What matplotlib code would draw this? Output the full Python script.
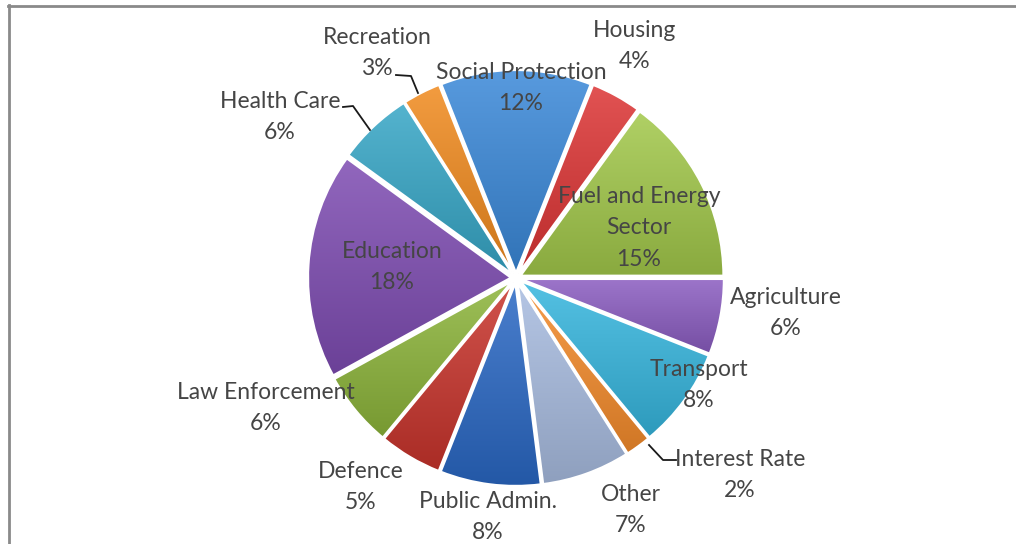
import numpy as np
import matplotlib.pyplot as plt
import matplotlib.colors as mcolors
from matplotlib.lines import Line2D

# ---------------------------------------------------------------------------
# data
# ---------------------------------------------------------------------------
labels = ["Social Protection", "Housing", "Fuel and Energy\nSector", "Agriculture",
          "Transport", "Interest Rate", "Other", "Public Admin.", "Defence",
          "Law Enforcement", "Education", "Health Care", "Recreation"]
shares = [12, 4, 15, 6, 8, 2, 7, 8, 5, 6, 18, 6, 3]

colors = ["#3a88d8", "#dc3434", "#a2c84a", "#8a5cc0", "#36b6de", "#f58c2c",
          "#a8bce0", "#2a68c4", "#c8342c", "#8cb43a", "#7e4cb2", "#36a6c6", "#f08a1e"]

# label block centres in pixel coords (x, y from top)
label_pos = [(521, 88), (635, 46), (639, 228), (786, 313), (699, 385), (740, 475),
             (631, 510), (488, 517), (361, 487), (266, 408), (392, 267), (280, 117),
             (377, 53)]

# leader lines for the small outside labels (pixel coords)
leaders = [
    [(343, 107), (353, 106), (370, 130)],   # Health Care
    [(396, 75), (411, 76), (418, 93)],      # Recreation
    [(676, 460), (663, 460), (649, 445)],   # Interest Rate
]

W, H = 1016, 544
CX, CY, R = 516, 278, 203
GAP = 5   # outward shift of every slice, px

fig = plt.figure(figsize=(W / 100, H / 100), dpi=100)
ax = fig.add_axes([0, 0, 1, 1])
ax.set_xlim(0, W)
ax.set_ylim(0, H)
ax.set_aspect("equal")
ax.axis("off")

wedges, _ = ax.pie(shares, colors=colors, startangle=90 + 360 * shares[0] / 200,
                   counterclock=False, radius=R, center=(CX, H - CY),
                   explode=[GAP] * len(shares),
                   wedgeprops=dict(edgecolor="white", linewidth=1.6))

# light-to-dark vertical shading inside each wedge
for w, c in zip(wedges, colors):
    base = np.array(mcolors.to_rgb(c))
    bb = w.get_path().get_extents(w.get_transform() - ax.transData)
    t = np.linspace(0, 1, 64)[:, None]
    light = base + (1 - base) * 0.15
    dark = base * 0.85
    grad = dark * (1 - t) + light * t
    img = np.repeat(grad[:, None, :], 2, axis=1)
    im = ax.imshow(img, extent=[bb.x0, bb.x1, bb.y0, bb.y1], origin="lower",
                   aspect="auto", zorder=w.get_zorder() + 0.1, interpolation="bilinear")
    im.set_clip_path(w)
    w.set_facecolor("none")
    w.set_zorder(w.get_zorder() + 0.2)

ax.set_xlim(0, W)
ax.set_ylim(0, H)

for lab, s, (x, y) in zip(labels, shares, label_pos):
    ax.text(x, H - y, f"{lab}\n{s}%", ha="center", va="center", fontsize=16.5,
            family="Lato", color="#454545", linespacing=1.6, zorder=10)

for pts in leaders:
    xs = [p[0] for p in pts]
    ys = [H - p[1] for p in pts]
    ax.plot(xs, ys, color="#1a1a1a", linewidth=1.3, zorder=9)

# chart frame (top and left edges)
fig.add_artist(Line2D([8 / W, 1], [1 - 5.5 / H, 1 - 5.5 / H], color="#8a8a8a", linewidth=2))
fig.add_artist(Line2D([8.5 / W, 8.5 / W], [0, 1 - 5 / H], color="#8a8a8a", linewidth=2))

fig.savefig("out.png", dpi=100)
